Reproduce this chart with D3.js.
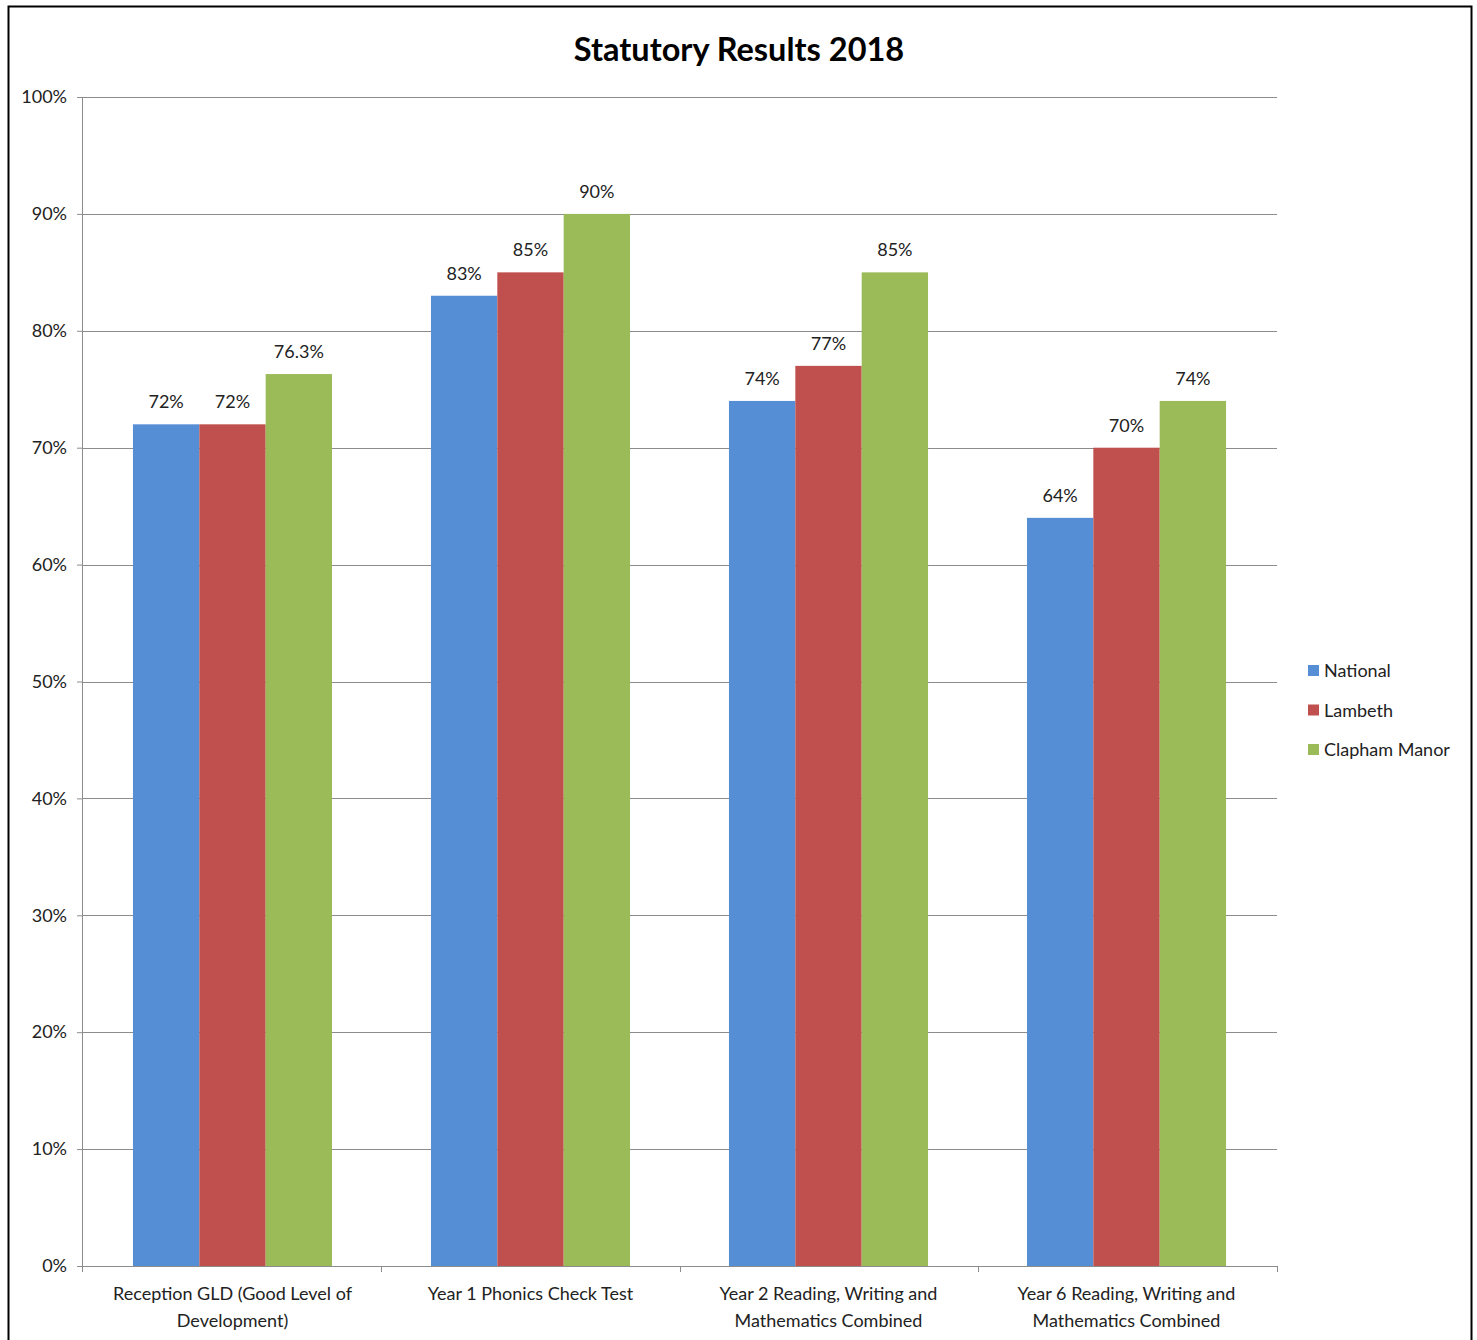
<!DOCTYPE html>
<html>
<head>
<meta charset="utf-8">
<script src="https://cdn.jsdelivr.net/npm/d3@7"></script>
<style>
  body { margin: 0; background: #fff; }
  text { font-family: Lato, "Open Sans", sans-serif; fill: #222; }
</style>
</head>
<body>
<div id="chart"></div>
<script>
// chart data
let categories = [
  ["Reception GLD (Good Level of", "Development)"],
  ["Year 1 Phonics Check Test"],
  ["Year 2 Reading, Writing and", "Mathematics Combined"],
  ["Year 6 Reading, Writing and", "Mathematics Combined"]
];
let seriesNames = ["National", "Lambeth", "Clapham Manor"];
let national = [72, 83, 74, 64];
let lambeth = [72, 85, 77, 70];
let claphamManor = [76.3, 90, 85, 74];
let valueLabels = [
  ["72%", "83%", "74%", "64%"],
  ["72%", "85%", "77%", "70%"],
  ["76.3%", "90%", "85%", "74%"]
];
let yTicks = [0, 10, 20, 30, 40, 50, 60, 70, 80, 90, 100];
let colors = ["#558ED5", "#C0504D", "#9BBB59"];

let svgWidth = 1477;
let svgHeight = 1340;
let margin = { top: 97, right: 200, bottom: 74, left: 82 };
let width = 1277 - margin.left;
let height = 1266 - margin.top;

let svg = d3.select("#chart")
  .append("svg")
  .attr("width", svgWidth)
  .attr("height", svgHeight);

// outer border
svg.append("rect")
  .attr("x", 8.5).attr("y", 6.5)
  .attr("width", 1463).attr("height", 1345)
  .attr("fill", "none")
  .attr("stroke", "#000")
  .attr("stroke-width", 2);

let chartGroup = svg.append("g")
  .attr("transform", `translate(${margin.left}, ${margin.top})`);

let allSeries = [national, lambeth, claphamManor];
let catIdx = d3.range(categories.length);

let x0 = d3.scaleBand()
  .domain(catIdx)
  .range([0, width])
  .paddingInner(0.332)
  .paddingOuter(0.171);
let x1 = d3.scaleBand()
  .domain(d3.range(seriesNames.length))
  .range([0, x0.bandwidth()]);
let y = d3.scaleLinear()
  .domain([0, 100])
  .range([height, 0]);

// gridlines
chartGroup.append("g")
  .selectAll("line")
  .data(yTicks)
  .enter()
  .append("line")
  .attr("x1", 0).attr("x2", width)
  .attr("y1", d => Math.round(y(d)) + 0.5)
  .attr("y2", d => Math.round(y(d)) + 0.5)
  .attr("stroke", "#8c8c8c")
  .attr("stroke-width", 1);

// y axis
let yAxis = d3.axisLeft(y)
  .tickValues(yTicks)
  .tickSize(5)
  .tickFormat(d => d + "%");
let yG = chartGroup.append("g").call(yAxis);
yG.select(".domain").attr("stroke", "#8c8c8c");
yG.selectAll(".tick line").attr("stroke", "#8c8c8c");
yG.selectAll(".tick text")
  .attr("x", -15)
  .style("font-size", "18px")
  .style("fill", "#222");

// bars
let groups = chartGroup.selectAll(".cat")
  .data(catIdx)
  .enter()
  .append("g")
  .attr("transform", i => `translate(${x0(i)}, 0)`);

groups.selectAll("rect")
  .data(i => allSeries.map((s, k) => ({ k: k, v: s[i], label: valueLabels[k][i] })))
  .enter()
  .append("rect")
  .attr("x", d => x1(d.k))
  .attr("y", d => y(d.v))
  .attr("width", x1.bandwidth())
  .attr("height", d => height - y(d.v))
  .attr("fill", d => colors[d.k]);

groups.selectAll(".vlabel")
  .data(i => allSeries.map((s, k) => ({ k: k, v: s[i], label: valueLabels[k][i] })))
  .enter()
  .append("text")
  .attr("x", d => x1(d.k) + x1.bandwidth() / 2)
  .attr("y", d => y(d.v) - 16)
  .attr("text-anchor", "middle")
  .style("font-size", "18px")
  .text(d => d.label);

// x axis
let xAxisG = chartGroup.append("g")
  .attr("transform", `translate(0, ${height})`);
xAxisG.append("line")
  .attr("x1", 0).attr("x2", width)
  .attr("y1", 0.5).attr("y2", 0.5)
  .attr("stroke", "#8c8c8c");
let step = width / categories.length;
xAxisG.selectAll(".xtick")
  .data(d3.range(categories.length + 1))
  .enter()
  .append("line")
  .attr("x1", i => Math.round(i * step) + 0.5)
  .attr("x2", i => Math.round(i * step) + 0.5)
  .attr("y1", 0).attr("y2", 6)
  .attr("stroke", "#8c8c8c");

xAxisG.selectAll(".xlabel")
  .data(catIdx)
  .enter()
  .append("text")
  .attr("text-anchor", "middle")
  .attr("transform", i => `translate(${x0(i) + x0.bandwidth() / 2}, 34)`)
  .style("font-size", "18px")
  .each(function(i) {
    d3.select(this).selectAll("tspan")
      .data(categories[i])
      .enter()
      .append("tspan")
      .attr("x", 0)
      .attr("dy", (d, j) => j === 0 ? 0 : 27)
      .text(d => d);
  });

// title
svg.append("text")
  .attr("x", 739)
  .attr("y", 61)
  .attr("text-anchor", "middle")
  .style("font-size", "32.5px")
  .style("font-weight", "bold")
  .style("fill", "#000")
  .text("Statutory Results 2018");

// legend
let legend = svg.append("g")
  .attr("transform", "translate(1308, 670)");
let legendItems = legend.selectAll("g")
  .data(seriesNames)
  .enter()
  .append("g")
  .attr("transform", (d, i) => `translate(0, ${i * 39.5})`);
legendItems.append("rect")
  .attr("x", 0).attr("y", -5)
  .attr("width", 11).attr("height", 11)
  .attr("fill", (d, i) => colors[i]);
legendItems.append("text")
  .attr("x", 16)
  .attr("y", 7)
  .style("font-size", "18px")
  .text(d => d);
</script>
</body>
</html>
